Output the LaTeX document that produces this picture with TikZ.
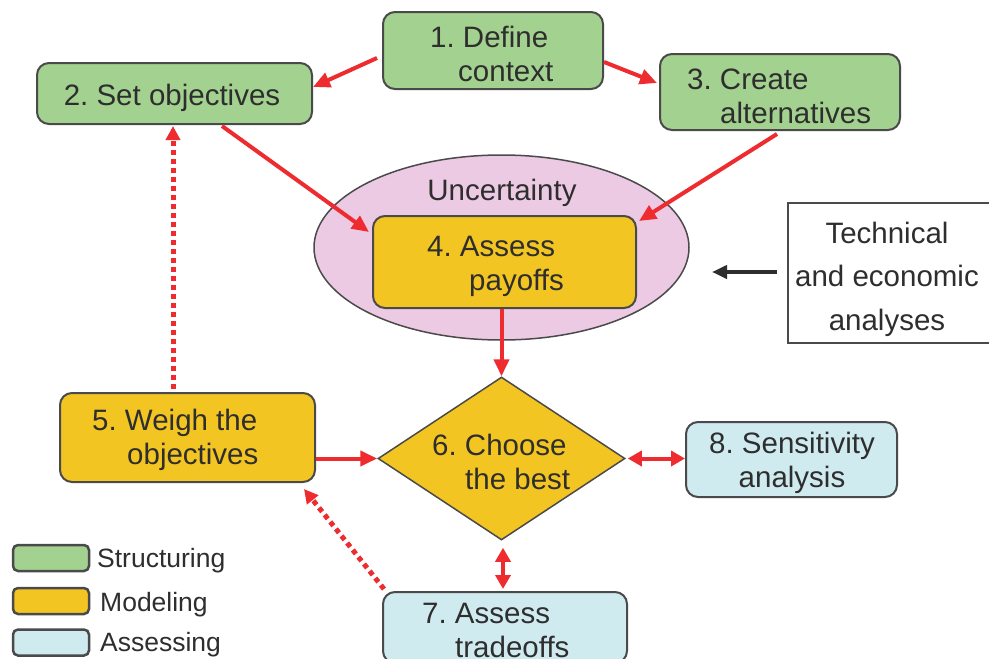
\documentclass[tikz,border=0pt]{standalone}
\usepackage{fontspec}
\setmainfont{Liberation Sans}
\usetikzlibrary{shapes.geometric,arrows.meta,calc}
\definecolor{cgreen}{HTML}{A3D18F}
\definecolor{cyellow}{HTML}{F3C522}
\definecolor{cblue}{HTML}{CFEBF0}
\definecolor{cpink}{HTML}{ECCAE3}
\definecolor{cred}{HTML}{EE2B2F}
\definecolor{cedge}{HTML}{4A4A4A}
\definecolor{ctext}{HTML}{2E2E2E}
\frenchspacing
\begin{document}
\begin{tikzpicture}[x=1pt,y=-1pt,
  box/.style={draw=cedge,line width=2pt,rounded corners=12pt,inner sep=0pt},
  txt/.style={inner sep=0pt,font=\fontsize{29.5}{34}\selectfont,text=ctext},
  legtxt/.style={inner sep=0pt,font=\fontsize{26.5}{30}\selectfont,text=ctext,anchor=west},
  redarrow/.style={draw=cred,line width=4pt,-{Triangle[length=17pt,width=15pt]}},
  redboth/.style={draw=cred,line width=4pt,{Triangle[length=14pt,width=15pt]}-{Triangle[length=14pt,width=15pt]}},
  reddots/.style={draw=cred,line width=5pt,dash pattern=on 5pt off 4pt,-{Triangle[length=14pt,width=14pt]}},
  blackarrow/.style={draw=ctext,line width=4pt,-{Triangle[length=15pt,width=13pt]}}
]
\clip (0,0) rectangle (989,659);
\fill[white] (0,0) rectangle (989,659);

% boxes
\node[box,fill=cgreen,minimum width=220pt,minimum height=77pt] (n1) at (493,50.5) {};
\node[box,fill=cgreen,minimum width=275pt,minimum height=61pt] (n2) at (174.5,93.5) {};
\node[box,fill=cgreen,minimum width=240pt,minimum height=76pt] (n3) at (780,92) {};
\node[ellipse,draw=cedge,line width=1.5pt,fill=cpink,minimum width=375pt,minimum height=185pt,inner sep=0pt] (ell) at (501.5,247.5) {};
\node[box,fill=cyellow,minimum width=263pt,minimum height=92pt] (n4) at (504.5,262) {};
\node[draw=cedge,line width=1.5pt,minimum width=240pt,minimum height=140pt,inner sep=0pt] (tech) at (908,273) {};
\node[diamond,draw=cedge,line width=1.5pt,fill=cyellow,shape aspect=1.5,minimum width=247pt,minimum height=163pt,inner sep=0pt] (n6) at (501.5,458.5) {};
\node[box,fill=cyellow,minimum width=255pt,minimum height=89pt] (n5) at (187.5,437.5) {};
\node[box,fill=cblue,minimum width=211pt,minimum height=75pt] (n8) at (791.5,459.5) {};
\node[box,fill=cblue,minimum width=244pt,minimum height=71pt] (n7) at (505,627.5) {};

% legend
\node[box,fill=cgreen,line width=2.5pt,rounded corners=5pt,minimum width=76pt,minimum height=26pt] (lg1) at (51,558) {};
\node[box,fill=cyellow,line width=2.5pt,rounded corners=5pt,minimum width=76pt,minimum height=26pt] (lg2) at (51,601) {};
\node[box,fill=cblue,line width=2.5pt,rounded corners=5pt,minimum width=76pt,minimum height=26pt] (lg3) at (51,642.5) {};
\node[legtxt] (lt1) at (97,561) {Structuring};
\node[legtxt] (lt2) at (100,605) {Modeling};
\node[legtxt] (lt3) at (100,645) {Assessing};

% texts
\node[txt,anchor=west,align=left] (t1) at (430,54) {1. Define\\\hspace*{28pt}context};
\node[txt,align=center] (t2) at (172,98) {2. Set objectives};
\node[txt,anchor=west,align=left] (t3) at (687,96) {3. Create\\\hspace*{33pt}alternatives};
\node[txt,align=center] (tu) at (502,193) {Uncertainty};
\node[txt,anchor=west,align=left] (t4) at (427,266.5) {4. Assess\\\hspace*{42pt}payoffs};
\node[txt,align=center,font=\fontsize{29.5}{43.5}\selectfont] (tt) at (887,279) {Technical\\and economic\\analyses};
\node[txt,anchor=west,align=left] (t5) at (92,439.5) {5. Weigh the\\\hspace*{35pt}objectives};
\node[txt,anchor=west,align=left] (t6) at (432,462) {6. Choose\\\hspace*{33pt}the best};
\node[txt,align=center] (t8) at (792,463) {8. Sensitivity\\analysis};
\node[txt,anchor=west,align=left] (t7) at (422,630.5) {7. Assess\\\hspace*{33pt}tradeoffs};

% connectors
\draw[redarrow] ($(n1.west)+(-5,7.5)$) -- ($(n2.east)+(0,-6.5)$);
\draw[redarrow] ($(n1.east)+(0,11.5)$) -- ($(n3.west)+(-2,-9)$);
\draw[redarrow] ($(n2.south)+(47.5,1)$) -- ($(n4.west)+(-3,-30)$);
\draw[redarrow] ($(n3.south)+(-3,3)$) -- ($(n4.north east)+(2,6)$);
\draw[redarrow] (n6.north |- n4.south) -- (n6.north);
\draw[redarrow] (n5.east |- n6.west) -- (n6.west);
\draw[redboth] ($(n6.east)+(2,0)$) -- (n8.west |- n6.east);
\draw[redboth] ($(n6.south)+(1.5,7)$) -- ($(n7.north)+(-2,-2)$);
\draw[reddots] ($(n5.north)+(-14.5,-3)$) -- ($(n2.south)+(-1.5,1)$);
\draw[reddots] ($(n7.north west)+(2,-2)$) -- ($(n5.south east)+(-12,6)$);
\coordinate (ta) at (777,272);
\coordinate (tb) at (712,272);
\draw[blackarrow] (ta) -- (tb);
\end{tikzpicture}
\end{document}
